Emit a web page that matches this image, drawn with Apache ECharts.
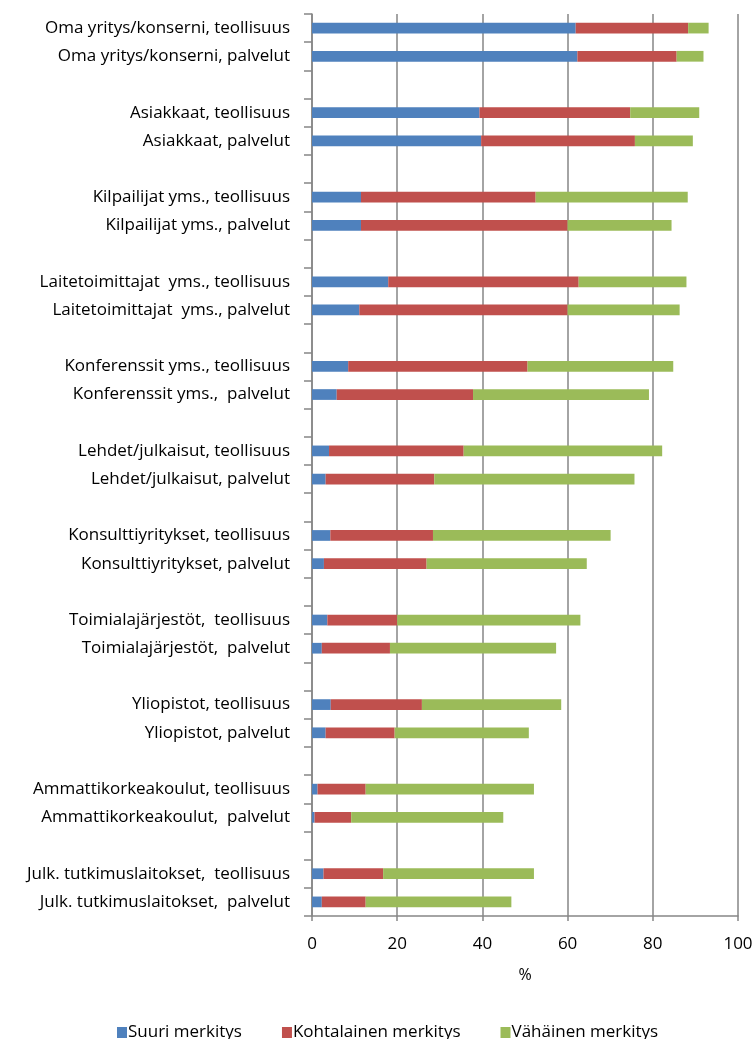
<!DOCTYPE html>
<html><head><meta charset="utf-8">
<script src="https://cdn.jsdelivr.net/npm/echarts@6/dist/echarts.min.js"></script>
<style>html,body{margin:0;padding:0;background:#fff}#c{width:756px;height:1039px}</style>
</head><body><div id="c"></div>
<script>
const categories = [
  "Oma yritys/konserni, teollisuus", "Oma yritys/konserni, palvelut",
  "Asiakkaat, teollisuus", "Asiakkaat, palvelut",
  "Kilpailijat yms., teollisuus", "Kilpailijat yms., palvelut",
  "Laitetoimittajat  yms., teollisuus", "Laitetoimittajat  yms., palvelut",
  "Konferenssit yms., teollisuus", "Konferenssit yms.,  palvelut",
  "Lehdet/julkaisut, teollisuus", "Lehdet/julkaisut, palvelut",
  "Konsulttiyritykset, teollisuus", "Konsulttiyritykset, palvelut",
  "Toimialajärjestöt,  teollisuus", "Toimialajärjestöt,  palvelut",
  "Yliopistot, teollisuus", "Yliopistot, palvelut",
  "Ammattikorkeakoulut, teollisuus", "Ammattikorkeakoulut,  palvelut",
  "Julk. tutkimuslaitokset,  teollisuus", "Julk. tutkimuslaitokset,  palvelut"
];
const suuri = [61.9, 62.3, 39.3, 39.7, 11.5, 11.5, 17.9, 11.1, 8.5, 5.8, 4.0, 3.2, 4.3, 2.8, 3.6, 2.3, 4.4, 3.2, 1.3, 0.6, 2.7, 2.3];
const kohtalainen = [26.4, 23.3, 35.4, 36.1, 41.0, 48.5, 44.7, 48.9, 42.1, 32.0, 31.6, 25.5, 24.1, 24.1, 16.4, 16.0, 21.4, 16.2, 11.3, 8.6, 14.0, 10.3];
const vahainen = [4.8, 6.3, 16.2, 13.6, 35.7, 24.4, 25.3, 26.3, 34.2, 41.3, 46.6, 47.0, 41.7, 37.6, 43.0, 39.0, 32.7, 31.5, 39.5, 35.7, 35.4, 34.2];
const seriesNames = ["Suuri merkitys", "Kohtalainen merkitys", "Vähäinen merkitys"];
const xTicks = [0, 20, 40, 60, 80, 100];

// insert an empty row between each pair
function withGaps(arr, filler) {
  const out = [];
  arr.forEach((v, i) => {
    if (i > 0 && i % 2 === 0) out.push(filler);
    out.push(v);
  });
  return out;
}
const cats = withGaps(categories, '');
const colors = ['#4F81BD', '#C0504D', '#9BBB59'];
const font = '"Open Sans", "Liberation Sans", sans-serif';

const chart = echarts.init(document.getElementById('c'));
chart.setOption({
  animation: false,
  color: colors,
  grid: { left: 312, right: 18, top: 14, bottom: 123, containLabel: false },
  legend: {
    data: seriesNames, top: 1019, left: 112, itemWidth: 10, itemHeight: 11, itemGap: 40,
    icon: 'rect',
    textStyle: { fontFamily: font, fontSize: 17, color: '#000', padding: [0, 0, 0, -4] }
  },
  xAxis: {
    type: 'value', min: xTicks[0], max: xTicks[xTicks.length - 1], interval: 20,
    name: '%', nameLocation: 'middle', nameGap: 51,
    nameTextStyle: { fontFamily: font, fontSize: 16, color: '#000' },
    axisLine: { show: true, lineStyle: { color: '#868686', width: 1.5 } },
    axisTick: { show: true, length: 5, lineStyle: { color: '#868686', width: 1.5 } },
    axisLabel: { fontFamily: font, fontSize: 17, color: '#000', margin: 20 },
    splitLine: { show: true, lineStyle: { color: '#868686', width: 1.5 } }
  },
  yAxis: {
    type: 'category', data: cats, inverse: true,
    axisLine: { show: true, lineStyle: { color: '#868686', width: 1.5 } },
    axisTick: { show: true, length: 8, interval: 0, lineStyle: { color: '#868686', width: 1.5 } },
    axisLabel: { interval: 0, fontFamily: font, fontSize: 17, color: '#000', margin: 22 }
  },
  series: [suuri, kohtalainen, vahainen].map((d, i) => ({
    name: seriesNames[i], type: 'bar', stack: 'total', barWidth: '38%',
    data: withGaps(d, null),
    itemStyle: { color: colors[i] }
  }))
});
</script></body></html>
